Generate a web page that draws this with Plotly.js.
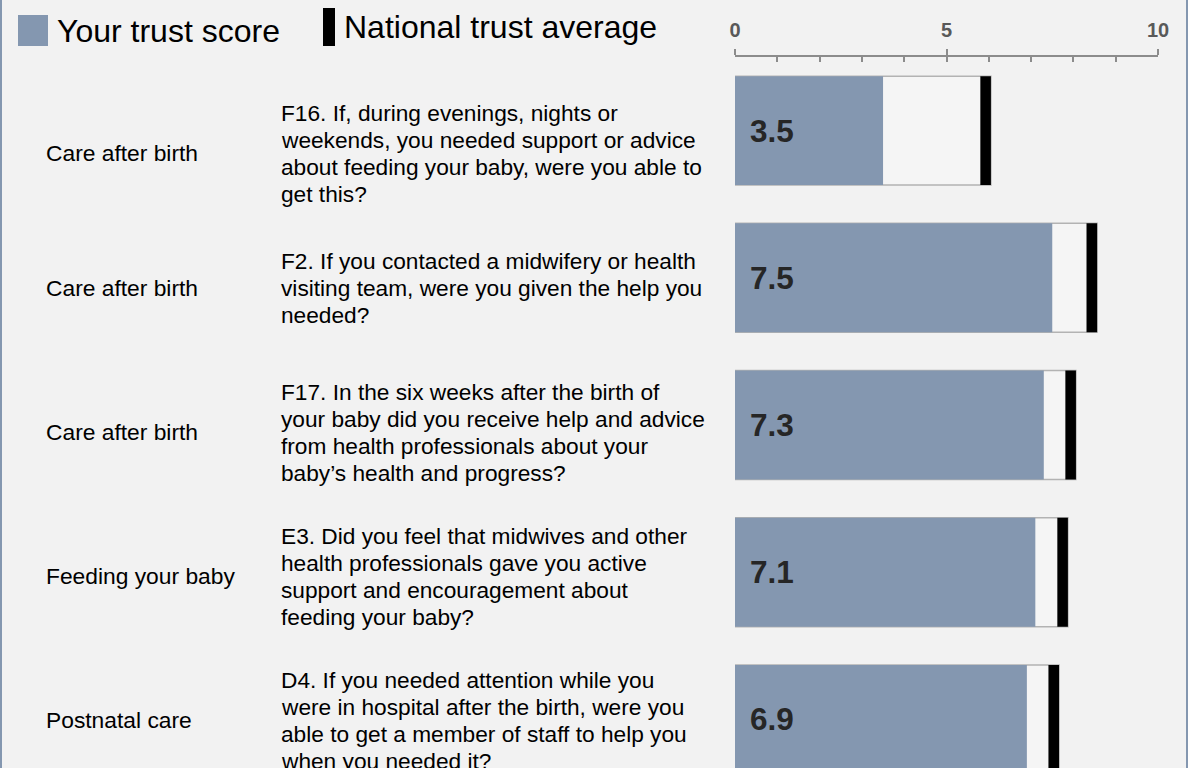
<!DOCTYPE html>
<html>
<head>
<meta charset="utf-8">
<script src="https://cdn.plot.ly/plotly-3.0.1.min.js"></script>
<style>
html,body{margin:0;padding:0;background:#f2f2f2;}
#wrap{position:relative;width:1188px;height:768px;overflow:hidden;}
#chart{width:1188px;height:768px;}
.edge{position:absolute;top:0;width:2px;height:768px;background:#8497b0;}
</style>
</head>
<body>
<div id="wrap">
<div id="chart"></div>
<div class="edge" style="left:0"></div>
<div class="edge" style="right:0"></div>
</div>
<script>
// ---- data ----
const codes = ["F16", "F2", "F17", "E3", "D4"];
const sections = ["Care after birth", "Care after birth", "Care after birth", "Feeding your baby", "Postnatal care"];
const questions = [
  "F16. If, during evenings, nights or<br>weekends, you needed support or advice<br>about feeding your baby, were you able to<br>get this?",
  "F2. If you contacted a midwifery or health<br>visiting team, were you given the help you<br>needed?",
  "F17. In the six weeks after the birth of<br>your baby did you receive help and advice<br>from health professionals about your<br>baby’s health and progress?",
  "E3. Did you feel that midwives and other<br>health professionals gave you active<br>support and encouragement about<br>feeding your baby?",
  "D4. If you needed attention while you<br>were in hospital after the birth, were you<br>able to get a member of staff to help you<br>when you needed it?"
];
const trustScore = [3.5, 7.5, 7.3, 7.1, 6.9];
const nationalAvg = [6.05, 8.56, 8.06, 7.87, 7.66];
const tickVals = [0, 5, 10];
const tickText = ["0", "5", "10"];

// ---- layout helpers (pixels) ----
const W = 1188, H = 768, L = 735, R = 30, T = 57;
const PW = W - L - R, PH = H - T;
const px = x => (x - L) / PW;
const py = y => (H - y) / PH;
const textRowY = [153, 288, 432, 576, 720];
const lineGap = 27;
const FONT = "Liberation Sans, Arial, sans-serif";
const markW = 0.25;

const traces = [
  { type: "bar", orientation: "h", y: codes, x: nationalAvg, width: 0.74,
    marker: { color: "#f5f5f5", line: { color: "#b3b3b3", width: 1.5 } },
    hoverinfo: "skip", showlegend: false },
  { type: "bar", orientation: "h", y: codes, x: trustScore, width: 0.74,
    marker: { color: "#8497b0", line: { width: 0 } },
    name: "Your trust score", showlegend: false },
  { type: "bar", orientation: "h", y: codes, x: nationalAvg.map(() => markW),
    base: nationalAvg.map(v => v - markW), width: 0.74,
    marker: { color: "#000000", line: { width: 0 } },
    name: "National trust average", showlegend: false },
  { type: "scatter", x: [0, 10], y: [codes[0], codes[0]], xaxis: "x2", mode: "markers",
    marker: { opacity: 0 }, hoverinfo: "skip", showlegend: false }
];

const annotations = [];
codes.forEach((c, i) => {
  annotations.push({ xref: "paper", yref: "paper", x: px(44), y: py(textRowY[i]),
    xanchor: "left", yanchor: "middle", text: sections[i], showarrow: false, align: "left",
    font: { family: FONT, size: 22.8, color: "#000" } });
  const lines = questions[i].split("<br>");
  lines.forEach((ln, j) => {
    annotations.push({ xref: "paper", yref: "paper", x: px(279),
      y: py(textRowY[i] + (j - (lines.length - 1) / 2) * lineGap),
      xanchor: "left", yanchor: "middle", text: ln, showarrow: false, align: "left",
      font: { family: FONT, size: 22.7, color: "#000" } });
  });
  annotations.push({ xref: "x", yref: "y", x: 0, y: c, xanchor: "left", yanchor: "middle",
    xshift: 13, text: trustScore[i].toFixed(1), showarrow: false,
    font: { family: FONT, size: 31.5, color: "#262626", weight: "bold" } });
});
annotations.push({ xref: "paper", yref: "paper", x: px(55), y: py(31), xanchor: "left", yanchor: "middle",
  text: "Your trust score", showarrow: false, font: { family: FONT, size: 32, color: "#000" } });
annotations.push({ xref: "paper", yref: "paper", x: px(342), y: py(27), xanchor: "left", yanchor: "middle",
  text: "National trust average", showarrow: false, font: { family: FONT, size: 32, color: "#000" } });

const shapes = [
  { type: "rect", xref: "paper", yref: "paper", x0: px(18), x1: px(48), y0: py(46), y1: py(15),
    fillcolor: "#8497b0", line: { width: 0 } },
  { type: "rect", xref: "paper", yref: "paper", x0: px(323), x1: px(335), y0: py(46), y1: py(8),
    fillcolor: "#000000", line: { width: 0 } }
];

const layout = {
  width: W, height: H,
  margin: { l: L, r: R, t: T, b: 0, pad: 0 },
  paper_bgcolor: "#f2f2f2", plot_bgcolor: "#f2f2f2",
  barmode: "overlay",
  showlegend: false,
  xaxis: { side: "top", range: [0, 10], tickvals: tickVals, ticktext: tickText,
    ticks: "outside", ticklen: 6, tickwidth: 2, tickcolor: "#8c8c8c",
    showline: true, linecolor: "#8c8c8c", linewidth: 2, showgrid: false, zeroline: false,
    ticklabelstandoff: 4,
    tickfont: { family: FONT, size: 20, color: "#595959", weight: "bold" }, fixedrange: true },
  xaxis2: { side: "top", overlaying: "x", range: [0, 10], dtick: 1, tick0: 0,
    ticks: "inside", ticklen: 5, tickwidth: 2, tickcolor: "#8c8c8c", showticklabels: false,
    showline: false, showgrid: false, zeroline: false },
  yaxis: { type: "category", categoryorder: "array", categoryarray: codes,
    range: [4.33, -0.5], visible: false, fixedrange: true },
  annotations: annotations,
  shapes: shapes,
  font: { family: FONT }
};

Plotly.newPlot("chart", traces, layout, { displayModeBar: false, staticPlot: true });
</script>
</body>
</html>
